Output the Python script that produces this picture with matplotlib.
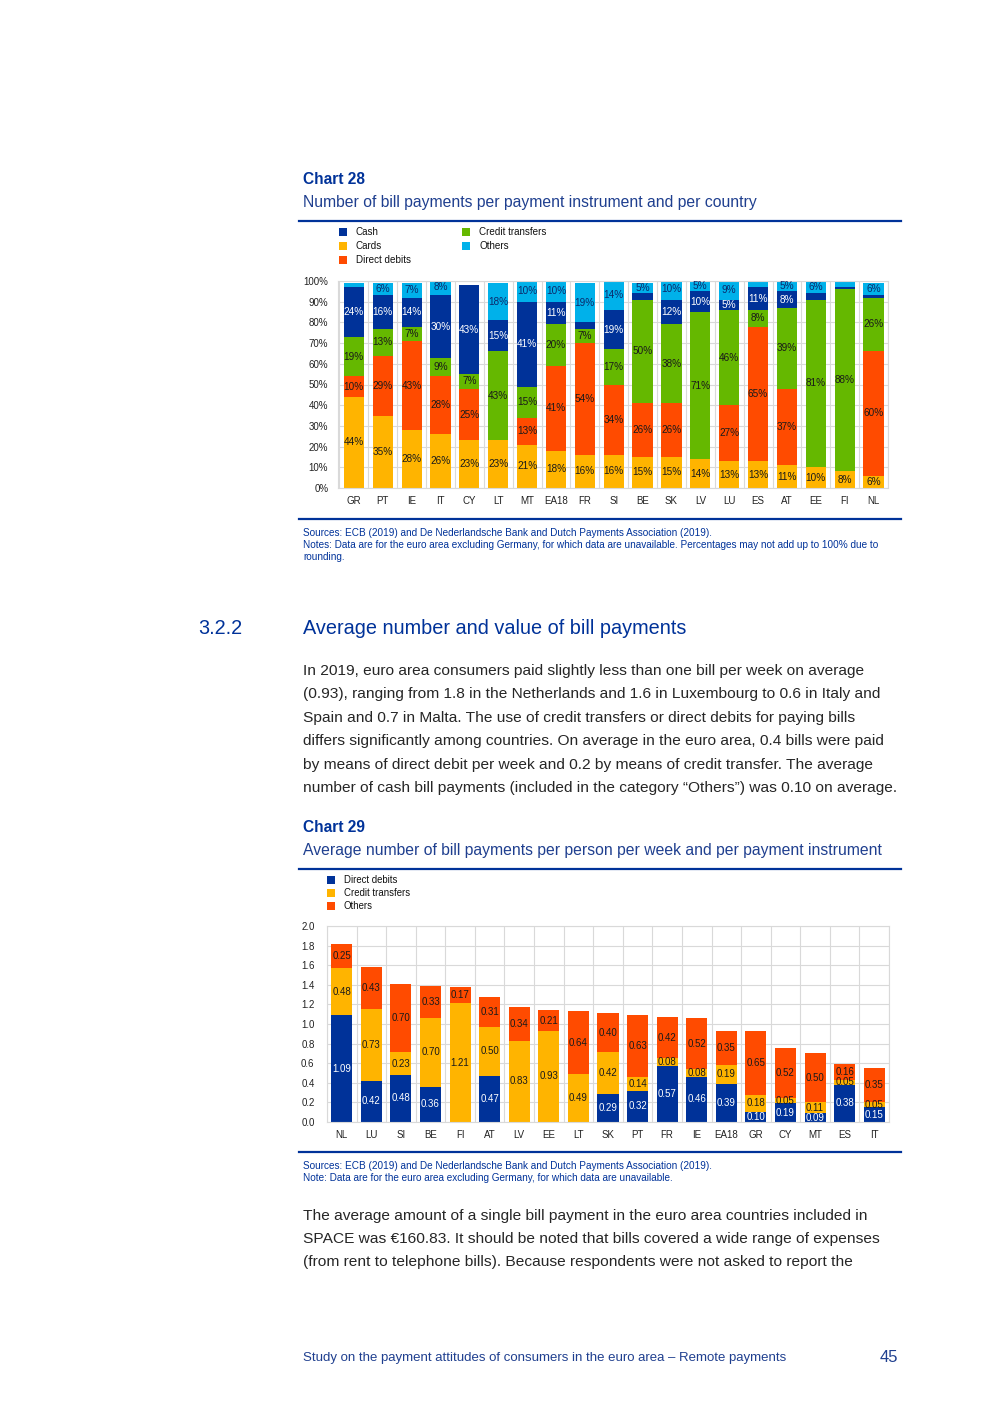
import matplotlib
matplotlib.use("Agg")
import matplotlib.pyplot as plt
import numpy as np
from matplotlib.patches import Rectangle
from matplotlib.lines import Line2D

plt.rcParams['font.family'] = ['Liberation Sans', 'DejaVu Sans']

# ---------------- data ----------------
countries28 = ['GR', 'PT', 'IE', 'IT', 'CY', 'LT', 'MT', 'EA18', 'FR', 'SI',
               'BE', 'SK', 'LV', 'LU', 'ES', 'AT', 'EE', 'FI', 'NL']
cards28 = [44, 35, 28, 26, 23, 23, 21, 18, 16, 16, 15, 15, 14, 13, 13, 11, 10, 8, 6]
dd28 = [10, 29, 43, 28, 25, 0, 13, 41, 54, 34, 26, 26, 0, 27, 65, 37, 0, 0, 60]
ct28 = [19, 13, 7, 9, 7, 43, 15, 20, 7, 17, 50, 38, 71, 46, 8, 39, 81, 88, 26]
cash28 = [24, 16, 14, 30, 43, 15, 41, 11, 3, 19, 3, 12, 10, 5, 11, 8, 3, 1, 1]
others28 = [2, 6, 7, 8, 0, 18, 10, 10, 19, 14, 5, 10, 5, 9, 3, 5, 6, 3, 6]
yticks28 = list(range(0, 101, 10))

countries29 = ['NL', 'LU', 'SI', 'BE', 'FI', 'AT', 'LV', 'EE', 'LT', 'SK',
               'PT', 'FR', 'IE', 'EA18', 'GR', 'CY', 'MT', 'ES', 'IT']
dd29 = [1.09, 0.42, 0.48, 0.36, 0, 0.47, 0, 0, 0, 0.29, 0.32, 0.57, 0.46, 0.39, 0.10, 0.19, 0.09, 0.38, 0.15]
ct29 = [0.48, 0.73, 0.23, 0.70, 1.21, 0.50, 0.83, 0.93, 0.49, 0.42, 0.14, 0.08, 0.08, 0.19, 0.18, 0.05, 0.11, 0.05, 0.05]
oth29 = [0.25, 0.43, 0.70, 0.33, 0.17, 0.31, 0.34, 0.21, 0.64, 0.40, 0.63, 0.42, 0.52, 0.35, 0.65, 0.52, 0.50, 0.16, 0.35]
yticks29 = [0.0, 0.2, 0.4, 0.6, 0.8, 1.0, 1.2, 1.4, 1.6, 1.8, 2.0]

# ---------------- style ----------------
NAVY = '#003299'
SUB = '#1f3f8f'
BODY = '#262626'
C_BLUE = '#003299'
C_YEL = '#FFB400'
C_RED = '#FF4B00'
C_GRN = '#65B800'
C_LBL = '#00B1EA'
GRID = '#d9d9d9'

W, H = 992, 1403
fig = plt.figure(figsize=(W / 100, H / 100), dpi=100)
renderer = fig.canvas.get_renderer()


def fx(x):
    return x / W


def fy(y):
    return 1 - y / H


def txt(x, y, s, size, color=BODY, ha='left', **kw):
    return fig.text(fx(x), fy(y), s, fontsize=size, color=color, ha=ha, va='center', **kw)


def fitted_size(s, width, size=10, **kw):
    t = fig.text(0, 0, s, fontsize=size, **kw)
    w = t.get_window_extent(renderer).width
    t.remove()
    return size * width / w


def fit(x, y, s, right, color=BODY, **kw):
    sz = fitted_size(s, right - x, **kw)
    return txt(x, y, s, sz, color=color, **kw)


def hline(y, x0=299, x1=901, lw=1.6, color=NAVY):
    fig.add_artist(Line2D([fx(x0), fx(x1)], [fy(y), fy(y)], lw=lw, color=color,
                          transform=fig.transFigure))


def square(xc, yc, color, s=8):
    fig.add_artist(Rectangle((fx(xc - s / 2), fy(yc + s / 2)), s / W, s / H,
                             transform=fig.transFigure, color=color, lw=0))


# ---------------- Chart 28 header ----------------
fit(303, 180, 'Chart 28', 365, color=NAVY, fontweight='bold')
fit(303, 203, 'Number of bill payments per payment instrument and per country', 757, color=SUB)
hline(221)

leg28 = [(343, 232, C_BLUE, 'Cash'), (343, 246, C_YEL, 'Cards'), (343, 260, C_RED, 'Direct debits'),
         (466, 232, C_GRN, 'Credit transfers'), (466, 246, C_LBL, 'Others')]
lsz = fitted_size('Credit transfers', 68)
for xc, yc, c, lab in leg28:
    square(xc, yc, c)
    txt(xc + 13, yc, lab, lsz, color='#111111')

# ---------------- Chart 28 axes ----------------
ax1 = fig.add_axes([fx(338), fy(488), (888 - 338) / W, (488 - 281) / H])
x = np.arange(len(countries28))
series28 = [(cards28, C_YEL, '#1a1a1a'), (dd28, C_RED, '#1a1a1a'), (ct28, C_GRN, '#1a1a1a'),
            (cash28, C_BLUE, 'white'), (others28, C_LBL, '#0b2a6b')]
bottom = np.zeros(len(x))
for vals, col, tcol in series28:
    vals = np.array(vals, dtype=float)
    ax1.bar(x, vals, 0.7, bottom=bottom, color=col, linewidth=0, zorder=2)
    for xi, b, v in zip(x, bottom, vals):
        if v >= 4:
            ax1.text(xi, b + v / 2, f'{int(v)}%', ha='center', va='center',
                     fontsize=7.2, color=tcol, zorder=3)
    bottom += vals
ax1.set_xlim(-0.55, 18.5)
ax1.set_ylim(0, 100)
ax1.set_yticks(yticks28)
ax1.set_yticklabels([f'{v}%' for v in yticks28])
ax1.set_xticks(x)
ax1.set_xticklabels(countries28)
ax1.set_xticks(np.arange(-0.5, 18.6, 1), minor=True)
ax1.grid(axis='y', which='major', color=GRID, lw=0.8, zorder=0)
ax1.grid(axis='x', which='minor', color=GRID, lw=0.8, zorder=0)
ax1.tick_params(which='both', length=0, labelsize=7, colors='#222222')
ax1.tick_params(axis='y', pad=7)
ax1.tick_params(axis='x', pad=6)
for sp in ax1.spines.values():
    sp.set_color(GRID)
    sp.set_linewidth(0.8)
ax1.set_axisbelow(True)

hline(519)
ssz = fitted_size('Sources: ECB (2019) and De Nederlandsche Bank and Dutch Payments Association (2019).', 710 - 303)
txt(303, 533, 'Sources: ECB (2019) and De Nederlandsche Bank and Dutch Payments Association (2019).', ssz, color=NAVY)
txt(303, 545, 'Notes: Data are for the euro area excluding Germany, for which data are unavailable. '
    'Percentages may not add up to 100% due to', ssz, color=NAVY)
txt(303, 557, 'rounding.', ssz, color=NAVY)

# ---------------- Section heading & paragraph ----------------
hsz = fitted_size('Average number and value of bill payments', 686 - 303)
txt(198, 628, '3.2.2', hsz, color=NAVY)
txt(303, 628, 'Average number and value of bill payments', hsz, color=NAVY)

para1 = [
    ('In 2019, euro area consumers paid slightly less than one bill per week on average', 875),
    ('(0.93), ranging from 1.8 in the Netherlands and 1.6 in Luxembourg to 0.6 in Italy and', 891),
    ('Spain and 0.7 in Malta. The use of credit transfers or direct debits for paying bills', 866),
    ('differs significantly among countries. On average in the euro area, 0.4 bills were paid', 895),
    ('by means of direct debit per week and 0.2 by means of credit transfer. The average', 884),
    ('number of cash bill payments (included in the category \u201cOthers\u201d) was 0.10 on average.', 897),
]
para2 = [
    ('The average amount of a single bill payment in the euro area countries included in', 866),
    ('SPACE was \u20ac160.83. It should be noted that bills covered a wide range of expenses', 891),
    ('(from rent to telephone bills). Because respondents were not asked to report the', 770),
]
psz = float(np.percentile([fitted_size(s, r - 303) for s, r in para1 + para2], 25))
for i, (s, r) in enumerate(para1):
    txt(303, 671 + i * 23.4, s, psz)
for i, (s, r) in enumerate(para2):
    txt(303, 1216 + i * 23.2, s, psz)

# ---------------- Chart 29 header ----------------
fit(303, 828, 'Chart 29', 365, color=NAVY, fontweight='bold')
fit(303, 851, 'Average number of bill payments per person per week and per payment instrument', 884, color=SUB)
hline(869)
leg29 = [(331, 880, C_BLUE, 'Direct debits'), (331, 893, C_YEL, 'Credit transfers'), (331, 906, C_RED, 'Others')]
for xc, yc, c, lab in leg29:
    square(xc, yc, c)
    txt(xc + 13, yc, lab, lsz * 0.97, color='#111111')

# ---------------- Chart 29 axes ----------------
ax2 = fig.add_axes([fx(327), fy(1122), (889 - 327) / W, (1122 - 926) / H])
x2 = np.arange(len(countries29))
series29 = [(dd29, C_BLUE, 'white'), (ct29, C_YEL, '#1a1a1a'), (oth29, C_RED, '#1a1a1a')]
bottom = np.zeros(len(x2))
for vals, col, tcol in series29:
    vals = np.array(vals, dtype=float)
    ax2.bar(x2, vals, 0.71, bottom=bottom, color=col, linewidth=0, zorder=2)
    for xi, b, v in zip(x2, bottom, vals):
        if v > 0:
            ax2.text(xi, b + v / 2, f'{v:.2f}', ha='center', va='center',
                     fontsize=7, color=tcol, zorder=3)
    bottom += vals
ax2.set_xlim(-0.48, 18.5)
ax2.set_ylim(0, 2.0)
ax2.set_yticks(yticks29)
ax2.set_yticklabels([f'{v:.1f}' for v in yticks29])
ax2.set_xticks(x2)
ax2.set_xticklabels(countries29)
ax2.set_xticks(np.arange(-0.5, 18.6, 1), minor=True)
ax2.grid(axis='y', which='major', color=GRID, lw=0.8, zorder=0)
ax2.grid(axis='x', which='minor', color=GRID, lw=0.8, zorder=0)
ax2.tick_params(which='both', length=0, labelsize=7, colors='#222222')
ax2.tick_params(axis='y', pad=9)
ax2.tick_params(axis='x', pad=6)
for sp in ax2.spines.values():
    sp.set_color(GRID)
    sp.set_linewidth(0.8)
ax2.set_axisbelow(True)

hline(1152)
txt(303, 1166, 'Sources: ECB (2019) and De Nederlandsche Bank and Dutch Payments Association (2019).', ssz, color=NAVY)
txt(303, 1178, 'Note: Data are for the euro area excluding Germany, for which data are unavailable.', ssz, color=NAVY)

# ---------------- footer ----------------
fit(303, 1358, 'Study on the payment attitudes of consumers in the euro area \u2013 Remote payments', 790, color=SUB)
txt(898, 1358, '45', 12, color=SUB, ha='right')

fig.savefig('out.png', dpi=100)
